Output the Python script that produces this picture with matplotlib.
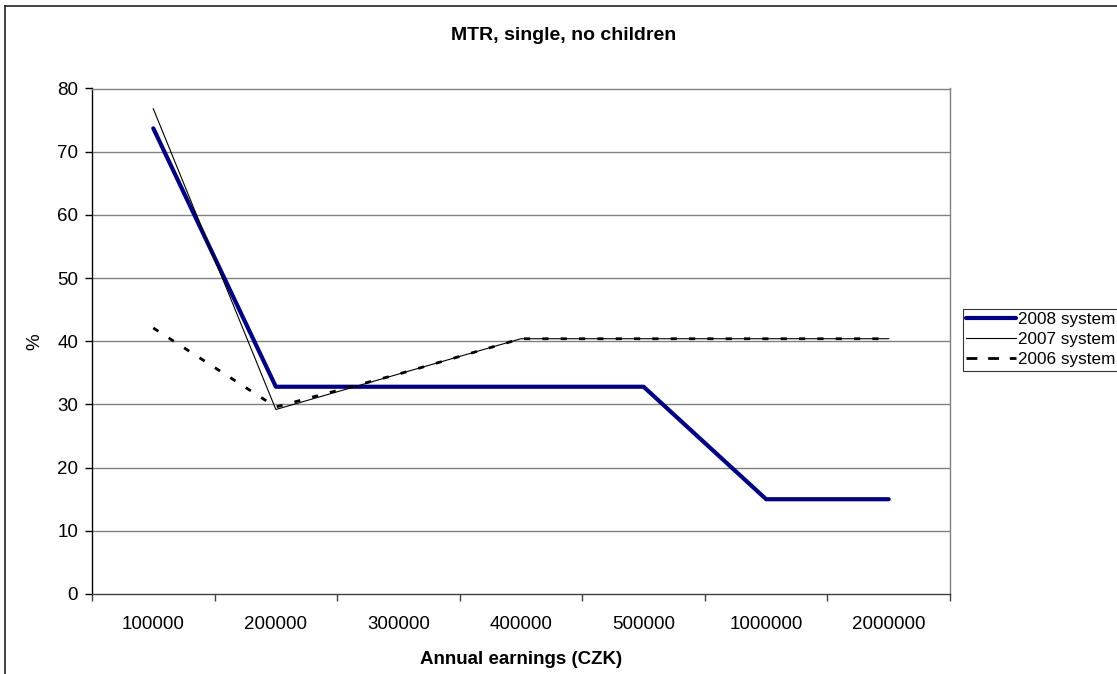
"""Marginal tax rate chart: single person, no children, 2006-2008 systems."""

from __future__ import annotations

import matplotlib

matplotlib.use("Agg")
import matplotlib.pyplot as plt
from matplotlib.lines import Line2D

EARNINGS = ["100000", "200000", "300000", "400000", "500000", "1000000", "2000000"]
MTR_2008 = [73.7, 32.8, 32.8, 32.8, 32.8, 15.0, 15.0]
MTR_2007 = [76.8, 29.2, 34.8, 40.4, 40.4, 40.4, 40.4]
MTR_2006 = [42.1, 29.6, 34.8, 40.4, 40.4, 40.4, 40.4]
SERIES_LABELS = ["2008 system", "2007 system", "2006 system"]
Y_TICKS = [0, 10, 20, 30, 40, 50, 60, 70, 80]

FONT = ["Liberation Sans", "DejaVu Sans"]
W, H = 1117, 674


def main() -> int:
    plt.rcParams["font.family"] = FONT
    fig = plt.figure(figsize=(W / 100, H / 100), dpi=100)
    ax = fig.add_axes([92 / W, 1 - 594 / H, (950 - 92) / W, (594 - 88.5) / H])

    x = list(range(len(EARNINGS)))
    h08, = ax.plot(x, MTR_2008, color="#000080", lw=3.0, solid_capstyle="round", zorder=3)
    h07, = ax.plot(x, MTR_2007, color="black", lw=0.8, zorder=4)
    ax.plot(x, MTR_2006, color="black", lw=2.0, linestyle=(0, (2.2, 4.4)), zorder=5)
    # Excel draws the legend sample with longer dashes than the series itself
    h06 = Line2D([], [], color="black", lw=2.0, linestyle=(0, (3.9, 3.9)))

    ax.set_xlim(-0.5, len(EARNINGS) - 0.5)
    ax.set_ylim(Y_TICKS[0], Y_TICKS[-1])
    ax.set_xticks(x)
    ax.set_xticklabels(EARNINGS, fontsize=13.5)
    ax.set_xticks([i - 0.5 for i in range(len(EARNINGS) + 1)], minor=True)
    ax.tick_params(axis="x", which="major", length=0, pad=16)
    ax.tick_params(axis="x", which="minor", length=5, width=1, color="#404040", direction="out")
    ax.set_yticks(Y_TICKS)
    ax.set_yticklabels([str(v) for v in Y_TICKS], fontsize=13.5)
    ax.tick_params(axis="y", length=5, width=1, direction="out", pad=5)

    for v in Y_TICKS[1:]:
        ax.axhline(v, color="#808080", lw=1.0, zorder=1)

    ax.spines["left"].set_color("black")
    ax.spines["bottom"].set_color("#404040")
    ax.spines["right"].set_color("#808080")
    ax.spines["top"].set_color("#808080")
    for spine in ax.spines.values():
        spine.set_linewidth(1.0)

    ax.set_xlabel("Annual earnings (CZK)", fontsize=13.5, fontweight="bold", labelpad=13)
    ax.set_ylabel("%", fontsize=13.5, labelpad=10)
    fig.text(564 / W, 1 - 35.5 / H, "MTR, single, no children", ha="center", va="center",
             fontsize=14, fontweight="bold")

    leg = fig.legend([h08, h07, h06], SERIES_LABELS, loc="upper left",
                     bbox_to_anchor=(963 / W, 1 - 308.5 / H), fontsize=12.3,
                     frameon=True, fancybox=False, handlelength=2.9, handletextpad=0.1,
                     borderpad=0.2, labelspacing=0.3, borderaxespad=0)
    leg.get_frame().set_edgecolor("black")
    leg.get_frame().set_linewidth(0.8)

    # outer chart border (only left and top are inside the picture)
    fig.add_artist(Line2D([5 / W, 5 / W], [1 - 5.5 / H, 0], color="#222222", lw=1.2))
    fig.add_artist(Line2D([5 / W, 1], [1 - 5.5 / H, 1 - 5.5 / H], color="#222222", lw=1.2))

    fig.savefig("out.png", dpi=100)
    plt.close(fig)
    return 0


if __name__ == "__main__":
    raise SystemExit(main())
